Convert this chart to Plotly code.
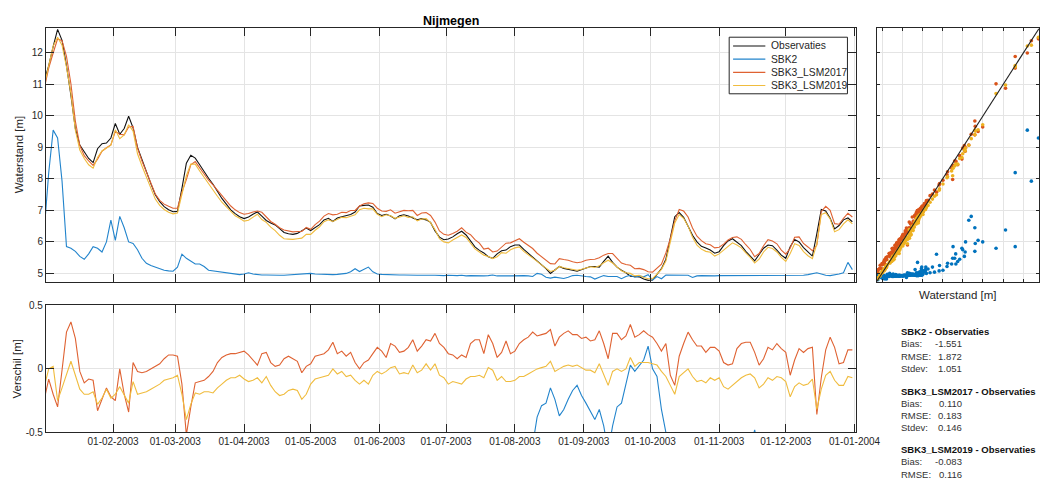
import numpy as np
import pandas as pd
import plotly.graph_objects as go

# ---------------- data ----------------
# daily series sampled every 2 days, 2003-01-01 .. 2003-12-31
DATES = pd.date_range("2003-01-01", "2003-12-31", freq="2D")

OBS = [
    11.12, 11.6, 12.2, 12.75, 12.4, 11.6, 10.65, 9.6, 9.08, 8.85,
    8.65, 8.52, 8.96, 9.12, 9.14, 9.3, 9.76, 9.42, 9.6, 9.99,
    9.62, 9.0, 8.6, 8.25, 7.85, 7.5, 7.28, 7.12, 7.02, 6.96,
    6.97, 7.7, 8.5, 8.75, 8.66, 8.45, 8.22, 8.02, 7.83, 7.6,
    7.38, 7.2, 7.02, 6.9, 6.8, 6.74, 6.79, 6.88, 6.95, 6.82,
    6.68, 6.6, 6.54, 6.42, 6.3, 6.26, 6.24, 6.27, 6.36, 6.44,
    6.36, 6.45, 6.55, 6.7, 6.75, 6.65, 6.76, 6.8, 6.83, 6.87,
    6.95, 7.14, 7.16, 7.17, 7.1, 6.9, 6.84, 6.88, 6.82, 6.73,
    6.83, 6.86, 6.82, 6.77, 6.7, 6.74, 6.7, 6.62, 6.35, 6.15,
    6.07, 6.09, 6.16, 6.26, 6.34, 6.22, 6.03, 5.84, 5.73, 5.65,
    5.53, 5.48, 5.62, 5.72, 5.74, 5.85, 5.9, 5.9, 5.76, 5.64,
    5.5, 5.38, 5.26, 5.15, 5.0, 5.12, 5.22, 5.16, 5.12, 5.1,
    5.07, 5.12, 5.17, 5.22, 5.22, 5.2, 5.38, 5.55, 5.35, 5.2,
    5.1, 5.02, 4.91, 4.9, 4.89, 4.82, 4.78, 4.79, 4.96, 5.15,
    5.45, 6.15, 6.8, 6.93, 6.78, 6.5, 6.21, 6.0, 5.86, 5.81,
    5.74, 5.64, 5.69, 5.88, 6.03, 6.1, 6.0, 5.88, 5.7, 5.55,
    5.4, 5.6, 5.8, 5.9, 5.88, 5.74, 5.58, 5.48, 5.85, 6.08,
    6.0, 5.82, 5.68, 5.55, 6.26, 7.03, 6.98, 6.75, 6.41, 6.52,
    6.7, 6.76, 6.64,
]

SBK2 = [
    6.38, 8.2, 9.55, 9.3, 7.93, 5.85, 5.8, 5.7, 5.54, 5.45,
    5.62, 5.85, 5.8, 5.68, 6.0, 6.69, 6.05, 6.81, 6.45, 6.0,
    5.95, 5.75, 5.48, 5.32, 5.25, 5.2, 5.14, 5.1, 5.08, 5.07,
    5.2, 5.61, 5.48, 5.38, 5.3, 5.3, 5.22, 5.1, 5.08, 5.04,
    5.02, 5.0, 4.98, 4.97, 4.96, 4.98, 5.02, 4.98, 4.96, 4.95,
    4.95, 4.94, 4.95, 4.94, 4.94, 4.95, 4.94, 4.95, 4.96, 4.97,
    5.0, 4.98, 4.97, 4.96, 4.96, 4.96, 4.97, 4.98, 5.0, 5.05,
    5.15, 5.06, 5.12, 5.2, 5.05, 4.98, 4.97, 4.96, 4.96, 4.95,
    4.95, 4.95, 4.94, 4.94, 4.94, 4.94, 4.93, 4.94, 4.94, 4.93,
    4.93, 4.94, 4.93, 4.93, 4.94, 4.92, 4.93, 4.92, 4.93, 4.92,
    4.93, 4.95, 4.92, 4.93, 4.92, 4.92, 4.93, 4.92, 4.93, 4.92,
    4.9, 5.0, 4.97, 4.88, 4.85, 4.88, 4.85, 4.84, 4.88, 4.93,
    4.94, 4.91, 4.9, 4.89, 4.82, 4.88, 4.93, 4.9, 4.9, 4.9,
    4.83, 4.9, 4.94, 4.88, 4.92, 4.89, 4.96, 4.79, 4.9, 4.83,
    4.95, 4.95, 4.93, 4.94, 4.95, 4.94, 4.87, 4.92, 4.93, 4.92,
    4.93, 4.92, 4.93, 4.93, 4.92, 4.93, 4.92, 4.93, 4.92, 4.93,
    4.92, 4.93, 4.92, 4.93, 4.92, 4.93, 4.93, 4.93, 4.93, 4.93,
    4.93, 4.94, 4.96, 4.98, 5.02, 4.98, 4.94, 4.93, 4.95, 4.98,
    5.02, 5.35, 5.12,
]

DIFF_LSM2017 = [
    -0.24, -0.08, -0.2, -0.3, -0.01, 0.29, 0.37, 0.24, -0.02, -0.11,
    -0.08, -0.09, -0.33, -0.24, -0.15, -0.22, -0.25, 0.0, -0.2, -0.34,
    0.05, -0.02, -0.03, -0.02, 0.0, 0.02, 0.04, 0.08, 0.11, 0.11,
    0.1, -0.12, -0.52, -0.3, -0.11, -0.1, -0.09, -0.06, -0.02, 0.05,
    0.09, 0.11, 0.12, 0.12, 0.13, 0.14, 0.11, 0.07, 0.03, 0.12,
    0.13, 0.05, 0.02, 0.03, 0.08, 0.1, 0.08, 0.06, -0.03, 0.02,
    0.04, 0.1, 0.11, 0.12, 0.15, 0.21, 0.12, 0.14, 0.1, 0.13,
    0.05, 0.0, 0.05, 0.07, 0.12, 0.17, 0.14, 0.09, 0.2, 0.18,
    0.13, 0.14, 0.17, 0.23, 0.14, 0.18, 0.23, 0.22, 0.28, 0.2,
    0.17, 0.12, 0.11, 0.08, 0.11, 0.09, 0.2, 0.23, 0.23, 0.12,
    0.27, 0.2, 0.09, 0.13, 0.22, 0.12, 0.14, 0.2, 0.23, 0.25,
    0.29, 0.26, 0.27, 0.28, 0.31, 0.18, 0.25, 0.28, 0.3, 0.27,
    0.27, 0.24, 0.25, 0.22, 0.23, 0.3, 0.2, 0.08, 0.28, 0.28,
    0.23, 0.26, 0.35, 0.25, 0.27, 0.3, 0.27, 0.25, 0.2, 0.14,
    0.2, -0.05, -0.13, 0.1, 0.2, 0.29, 0.23, 0.18, 0.18, 0.13,
    0.17, 0.17, 0.14, 0.05, 0.03, 0.04, 0.16, 0.2, 0.21, 0.21,
    0.13, 0.03, 0.08, 0.17, 0.15, 0.2, 0.16, 0.13, -0.05, 0.07,
    0.16, 0.13, 0.16, 0.17, -0.36, -0.07, 0.15, 0.25, 0.17, 0.04,
    0.05, 0.15, 0.15,
]

DIFF_LSM2019 = [
    -0.14, 0.0, 0.02, -0.25, -0.15, -0.04, 0.06, -0.05, -0.16, -0.2,
    -0.2, -0.18, -0.28, -0.23, -0.16, -0.23, -0.2, -0.14, -0.2, -0.27,
    -0.1, -0.2, -0.19, -0.18, -0.16, -0.14, -0.12, -0.09, -0.08, -0.07,
    -0.05, -0.2, -0.4, -0.28, -0.19, -0.2, -0.18, -0.18, -0.19, -0.15,
    -0.12, -0.09, -0.07, -0.07, -0.05, -0.08, -0.1, -0.09, -0.07, -0.11,
    -0.06, -0.13, -0.18, -0.21, -0.2, -0.17, -0.16, -0.17, -0.24, -0.2,
    -0.12, -0.08, -0.07, -0.06, -0.05, 0.0, -0.04, -0.02, -0.06, -0.05,
    -0.09, -0.12, -0.09, -0.12, -0.05, -0.02, -0.04, -0.02, 0.01, 0.02,
    -0.04, -0.03, -0.04, 0.03, -0.03, -0.01, 0.04, -0.01, 0.04, -0.05,
    -0.07, -0.12, -0.1, -0.11, -0.12, -0.08, -0.06, -0.06, -0.05, -0.07,
    0.01, -0.01, -0.09, -0.06, -0.1, -0.1, -0.09, -0.06, -0.06, -0.04,
    -0.02, 0.0, 0.01, 0.02, 0.06, -0.02, 0.0, 0.02, 0.03, 0.02,
    0.03, 0.01, -0.01, -0.01, -0.03, 0.04, -0.04, -0.13, -0.02, 0.0,
    -0.02, 0.0, 0.09, 0.02, 0.05, 0.05, 0.05, 0.04, 0.03, -0.02,
    -0.06, -0.13, -0.2, -0.06, -0.03, 0.0, -0.06, -0.1, -0.09, -0.11,
    -0.07, -0.09, -0.07, -0.14, -0.16, -0.13, -0.1, -0.07, -0.05, -0.04,
    -0.07, -0.15, -0.12, -0.07, -0.09, -0.06, -0.07, -0.1, -0.22, -0.14,
    -0.11, -0.13, -0.12, -0.08, -0.32, -0.16, -0.05, -0.02, -0.09, -0.13,
    -0.13, -0.06, -0.07,
]

SERIES_NAMES = ["Observaties", "SBK2", "SBK3_LSM2017", "SBK3_LSM2019"]
MONTH_TICKS = ["2003-02-01", "2003-03-01", "2003-04-01", "2003-05-01",
               "2003-06-01", "2003-07-01", "2003-08-01", "2003-09-01",
               "2003-10-01", "2003-11-01", "2003-12-01", "2004-01-01"]
LEVEL_TICKS = [5, 6, 7, 8, 9, 10, 11, 12]
DIFF_TICKS = [-0.5, 0, 0.5]
DIFF_TICKTEXT = ["-0.5", "0", "0.5"]

STAT_TITLES = ["SBK2 - Observaties", "SBK3_LSM2017 - Observaties", "SBK3_LSM2019 - Observaties"]
STAT_BIAS = ["-1.551", "0.110", "-0.083"]
STAT_RMSE = ["1.872", "0.183", "0.116"]
STAT_STDEV = ["1.051", "0.146", None]

# ---------------- derived ----------------
obs = np.array(OBS)
sbk2 = np.array(SBK2)
lsm17 = obs + np.array(DIFF_LSM2017)
lsm19 = obs + np.array(DIFF_LSM2019)
assert len(obs) == len(DATES) == len(sbk2) == len(lsm17) == len(lsm19)

C_OBS = "#111111"
C_SBK2 = "#2284CC"
C_17 = "#DF6232"
C_19 = "#F0BC3E"
colors = [C_OBS, C_SBK2, C_17, C_19]
P_SBK2, P_17, P_19 = "#0072BD", "#D95319", "#EDB120"

W, H = 1064, 490


def fx(p):
    return p / W


def fy(p):
    return 1 - p / H


FONT = "Liberation Sans, Arial, Helvetica, sans-serif"
AX_COL = "#262626"
GRID = "#E4E4E4"
XR = ["2003-01-01 18:00", "2004-01-01 18:00"]
LR = [4.74, 12.78]

fig = go.Figure()

# main panel
for name, ser, col in zip(SERIES_NAMES, [obs, sbk2, lsm17, lsm19], colors):
    fig.add_trace(go.Scatter(x=DATES, y=ser, mode="lines", name=name,
                             line=dict(color=col, width=1.1),
                             xaxis="x", yaxis="y", showlegend=False))

# scatter panel
for ser, col in zip([sbk2, lsm17, lsm19], [P_SBK2, P_17, P_19]):
    fig.add_trace(go.Scatter(x=obs, y=ser, mode="markers",
                             marker=dict(color=col, size=3.6, line=dict(width=0)),
                             xaxis="x2", yaxis="y2", showlegend=False))
fig.add_trace(go.Scatter(x=LR, y=LR, mode="lines", line=dict(color="#202020", width=1.1),
                         xaxis="x2", yaxis="y2", showlegend=False))

# difference panel
for ser, col in zip([sbk2, lsm17, lsm19], [C_SBK2, C_17, C_19]):
    fig.add_trace(go.Scatter(x=DATES, y=ser - obs, mode="lines",
                             line=dict(color=col, width=1.1),
                             xaxis="x3", yaxis="y3", showlegend=False))

common = dict(showline=True, linecolor=AX_COL, linewidth=1, mirror="ticks",
              ticks="inside", tickcolor=AX_COL, showgrid=True, gridcolor=GRID,
              gridwidth=1, zeroline=False, tickfont=dict(size=10, color=AX_COL, family=FONT))

main_dom_x = [fx(47), fx(876)]
main_dom_y = [fy(282.5), fy(23)]
bot_dom_y = [fy(437), fy(307)]

month_text = [pd.Timestamp(t).strftime("%d-%m-%Y") for t in MONTH_TICKS]

fig.update_layout(
    width=W, height=H,
    margin=dict(l=0, r=0, t=0, b=0),
    paper_bgcolor="white", plot_bgcolor="white",
    font=dict(family=FONT, color=AX_COL),
    xaxis=dict(domain=main_dom_x, anchor="y", type="date", range=XR,
               tickvals=MONTH_TICKS, showticklabels=False, ticklen=8, **common),
    yaxis=dict(domain=main_dom_y, anchor="x", range=LR, tickvals=LEVEL_TICKS,
               ticklen=8, **common),
    xaxis2=dict(domain=[fx(897), fx(1063)], anchor="y2", range=LR, tickvals=LEVEL_TICKS,
                showticklabels=False, ticklen=3, **common),
    yaxis2=dict(domain=main_dom_y, anchor="x2", range=LR, tickvals=LEVEL_TICKS,
                showticklabels=False, ticklen=3, **common),
    xaxis3=dict(domain=main_dom_x, anchor="y3", type="date", range=XR,
                tickvals=MONTH_TICKS, ticktext=month_text, ticklen=8, **common),
    yaxis3=dict(domain=bot_dom_y, anchor="x3", range=[-0.5, 0.5], tickvals=DIFF_TICKS,
                ticktext=DIFF_TICKTEXT, ticklen=8, **common),
    showlegend=False,
)

ann = []
ann.append(dict(text="<b>Nijmegen</b>", x=fx(461.5), y=fy(15), xref="paper", yref="paper",
                showarrow=False, xanchor="center", yanchor="middle",
                font=dict(size=12.5, color="#000000", family=FONT)))
ann.append(dict(text="Waterstand [m]", x=fx(19), y=fy(152.5), xref="paper", yref="paper",
                showarrow=False, textangle=-90, xanchor="center", yanchor="middle",
                font=dict(size=11.5, color=AX_COL, family=FONT)))
ann.append(dict(text="Verschil [m]", x=fx(17), y=fy(372), xref="paper", yref="paper",
                showarrow=False, textangle=-90, xanchor="center", yanchor="middle",
                font=dict(size=11.5, color=AX_COL, family=FONT)))
ann.append(dict(text="Waterstand [m]", x=fx(980), y=fy(296), xref="paper", yref="paper",
                showarrow=False, xanchor="center", yanchor="middle",
                font=dict(size=11.5, color=AX_COL, family=FONT)))

# legend (custom, compact like the original)
shapes = [dict(type="rect", xref="paper", yref="paper", x0=fx(746), x1=fx(867),
               y0=fy(90), y1=fy(32), line=dict(color=AX_COL, width=1), fillcolor="white",
               layer="above")]
leg_rows = [41, 54.5, 68, 81.5]
for name, col, yy in zip(SERIES_NAMES, colors, leg_rows):
    shapes.append(dict(type="line", xref="paper", yref="paper", x0=fx(750), x1=fx(783),
                       y0=fy(yy), y1=fy(yy), line=dict(color=col, width=1.1), layer="above"))
    ann.append(dict(text=name, x=fx(787), y=fy(yy), xref="paper", yref="paper",
                    showarrow=False, xanchor="left", yanchor="middle",
                    font=dict(size=10.3, color=AX_COL, family=FONT)))

# statistics text
blocks_top = [334, 395, 455]
for title, bias, rmse, sd, y0 in zip(STAT_TITLES, STAT_BIAS, STAT_RMSE, STAT_STDEV, blocks_top):
    ann.append(dict(text="<b>" + title + "</b>", x=fx(920), y=fy(y0), xref="paper", yref="paper",
                    showarrow=False, xanchor="left", yanchor="middle",
                    font=dict(size=9.5, color="#111111", family=FONT)))
    rows = [("Bias:", bias), ("RMSE:", rmse), ("Stdev:", sd)]
    for k, (lab, val) in enumerate(rows):
        if val is None:
            continue
        yy = y0 + 12.4 * (k + 1)
        ann.append(dict(text=lab, x=fx(920), y=fy(yy), xref="paper", yref="paper",
                        showarrow=False, xanchor="left", yanchor="middle",
                        font=dict(size=9.5, color="#333333", family=FONT)))
        ann.append(dict(text=val, x=fx(986), y=fy(yy), xref="paper", yref="paper",
                        showarrow=False, xanchor="right", yanchor="middle",
                        font=dict(size=9.5, color="#333333", family=FONT)))

fig.update_layout(annotations=ann, shapes=shapes)

# make the page exactly the figure size (no body margin / scrollbars)
POST = "document.body.style.margin='0';document.body.style.overflow='hidden';"
fig.write_html("out.html", post_script=POST)
